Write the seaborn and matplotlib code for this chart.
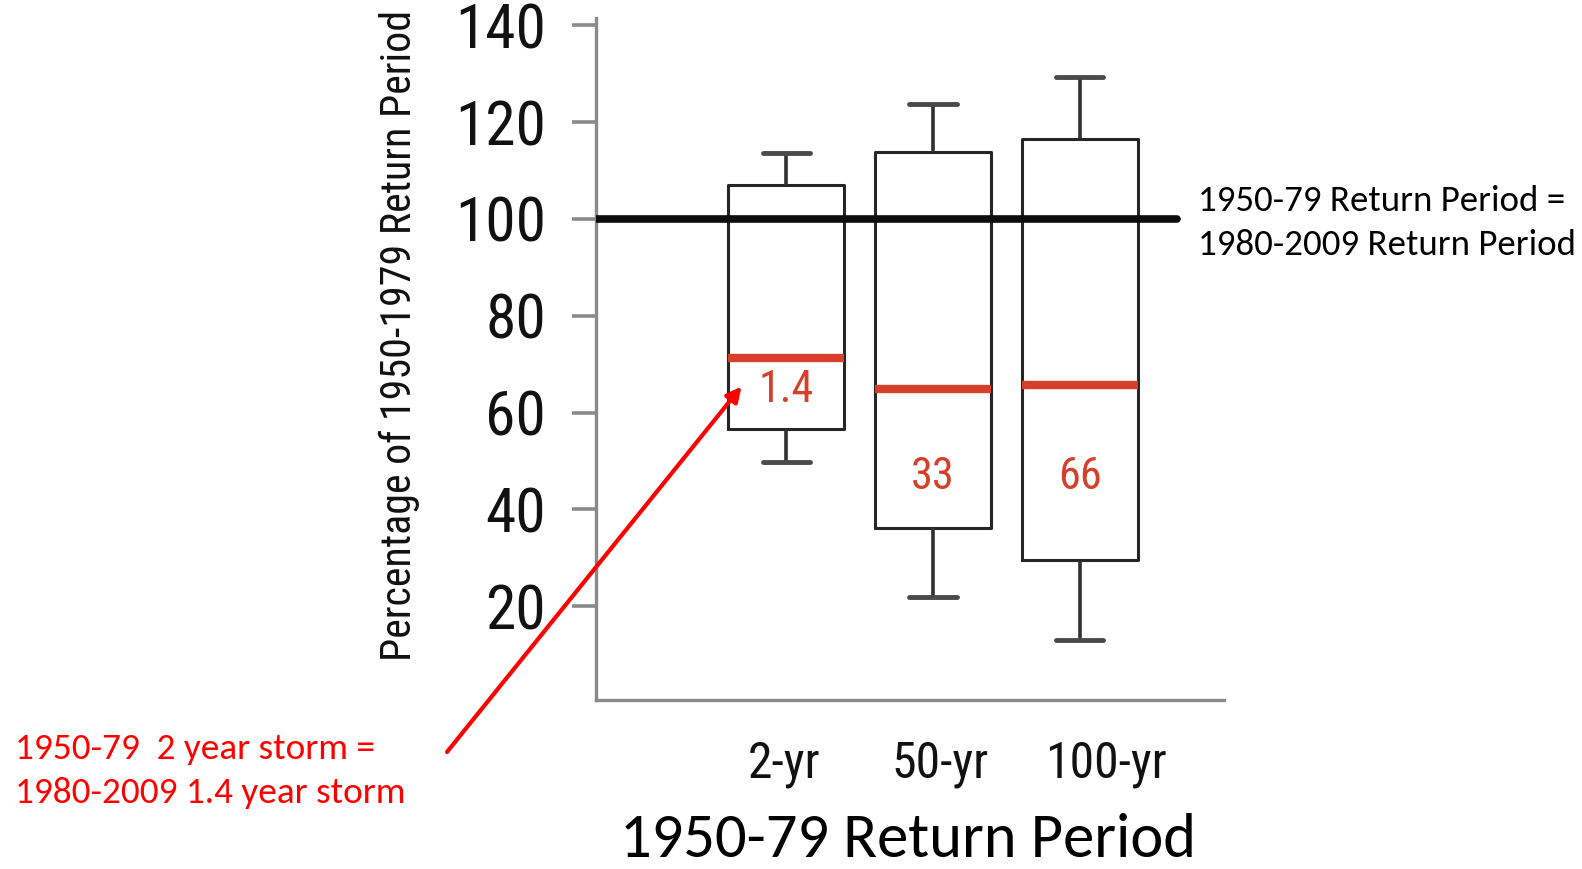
import numpy as np
import pandas as pd
import matplotlib
matplotlib.use("Agg")
import matplotlib.pyplot as plt
import matplotlib.transforms as mtransforms
from matplotlib import font_manager as fm
import seaborn as sns

# ---------------- data ----------------
periods = ["2-yr", "50-yr", "100-yr"]
# lower whisker, Q1, median, Q3, upper whisker (percent of 1950-1979 return period)
pct_2yr = [49.8, 56.5, 71.3, 107.0, 113.7]
pct_50yr = [21.8, 36.2, 64.8, 113.8, 123.8]
pct_100yr = [13.1, 29.5, 65.6, 116.5, 129.4]
new_periods = ["1.4", "33", "66"]
yticks = [20, 40, 60, 80, 100, 120, 140]
reference_level = 100

df = pd.DataFrame({
    "period": np.repeat(periods, 5),
    "pct": pct_2yr + pct_50yr + pct_100yr,
})

# ---------------- fonts ----------------
sns.set_style("ticks")
avail = fm.fontManager.ttflist
names = {f.name for f in avail}
cond_prop = None
for cand in ["Liberation Sans Narrow", "Roboto Condensed", "Open Sans Condensed",
             "Noto Sans Condensed", "DejaVu Sans Condensed"]:
    if cand in names:
        cond_prop = fm.FontProperties(family=cand)
        break
if cond_prop is None:
    for f in avail:
        if f.name in ("Roboto", "Open Sans", "Noto Sans", "DejaVu Sans", "Inter") and \
                str(f.stretch) in ("condensed", "semi-condensed", "extra-condensed", "75", "87.5", "62.5"):
            cond_prop = fm.FontProperties(fname=f.fname)
            break
if cond_prop is None:
    cond_prop = fm.FontProperties(family="DejaVu Sans")
calib = "Carlito" if "Carlito" in names else "Lato"
plt.rcParams["font.family"] = [calib, "DejaVu Sans"]

W, H = 1582, 869
fig = plt.figure(figsize=(W / 100, H / 100), dpi=100)
ax = fig.add_axes([596 / W, 1 - 700 / H, (1224 - 596) / W, (700 - 18) / H])

median_red = "#d6402a"
box_dark = "#262626"
sns.boxplot(data=df, x="period", y="pct", order=periods, ax=ax,
            whis=(0, 100), width=0.79, fill=False, color=box_dark, linecolor=box_dark,
            linewidth=2.2, capwidths=0.32,
            boxprops=dict(color=box_dark, linewidth=2.2),
            medianprops=dict(color=median_red, linewidth=6),
            capprops=dict(color="#4a4a4a", linewidth=3.5),
            whiskerprops=dict(color="#303030", linewidth=2.6))

ax.set_xlim(-1.293, 2.98)
ax.set_ylim(0.62, 141.5)
ax.axhline(reference_level, xmin=0, xmax=(2.66 + 1.293) / (2.98 + 1.293),
           color="#0d0d0d", linewidth=5.5, zorder=5)

for sp in ["top", "right"]:
    ax.spines[sp].set_visible(False)
for sp in ["left", "bottom"]:
    ax.spines[sp].set_color("#8a8a8a")
    ax.spines[sp].set_linewidth(2.4)

ax.set_yticks(yticks)
ax.set_yticklabels([str(v) for v in yticks], fontproperties=cond_prop)
ax.tick_params(axis="y", length=17, width=2.6, color="#8a8a8a", pad=19, labelcolor="#111111")
ax.tick_params(axis="x", length=0, pad=29, labelcolor="#111111")
ax.set_xticks(range(len(periods)))
ax.set_xticklabels(periods, fontproperties=cond_prop)
ax.set_xlabel("")
ax.set_ylabel("")

# numbers inside boxes
num_y = [64.6, 46.7, 46.7]
num_texts = []
for i, (lab, yy) in enumerate(zip(new_periods, num_y)):
    num_texts.append(ax.text(i, yy, lab, ha="center", va="center", color=median_red,
                             fontproperties=cond_prop, fontsize=30, zorder=6))

# y label (rotated, condensed)
ylab = fig.text(399 / W, 1 - 335 / H, "Percentage of 1950-1979 Return Period",
                rotation=90, ha="center", va="center", fontproperties=cond_prop,
                fontsize=30, color="#111111")

# x label
xlab = fig.text(908 / W, 1 - 840 / H, "1950-79 Return Period", ha="center", va="center",
                fontsize=31, color="black")

# right annotation
r1 = fig.text(1198 / W, 1 - 201 / H, "1950-79 Return Period =", ha="left", va="center",
              fontsize=21, color="black")
r2 = fig.text(1198 / W, 1 - 245 / H, "1980-2009 Return Period", ha="left", va="center",
              fontsize=21, color="black")

# red annotation
l1 = fig.text(15 / W, 1 - 749 / H, "1950-79  2 year storm =", ha="left", va="center",
              fontsize=21, color="#ff0000")
l2 = fig.text(15 / W, 1 - 793 / H, "1980-2009 1.4 year storm", ha="left", va="center",
              fontsize=21, color="#ff0000")

ax.annotate("", xy=(741.6, H - 386.5), xycoords="figure pixels",
            xytext=(447, H - 752), textcoords="figure pixels",
            arrowprops=dict(arrowstyle="-|>", color="#ff0000", lw=3,
                            mutation_scale=22, shrinkA=0, shrinkB=0), zorder=7)

# ---- fit text sizes to measured widths ----
fig.canvas.draw()
r = fig.canvas.get_renderer()

def scale_for(t, target, use_height=False):
    bb = t.get_window_extent(r)
    cur = bb.height if use_height else bb.width
    return target / cur

s = scale_for(ylab, 651, use_height=True)
ylab.set_fontsize(ylab.get_fontsize() * s)

yl = ax.get_yticklabels()
s = scale_for(yl[-1], 90)
for t in yl:
    t.set_fontsize(t.get_fontsize() * s)

xl = ax.get_xticklabels()
s = scale_for(xl[-1], 121)
for t in xl:
    t.set_fontsize(t.get_fontsize() * s)

s = scale_for(num_texts[0], 55)
for t in num_texts:
    t.set_fontsize(t.get_fontsize() * s)

s = scale_for(xlab, 576)
xlab.set_fontsize(xlab.get_fontsize() * s)
s = scale_for(r2, 378)
r1.set_fontsize(r1.get_fontsize() * s)
r2.set_fontsize(r2.get_fontsize() * s)
s = scale_for(l2, 390)
l1.set_fontsize(l1.get_fontsize() * s)
l2.set_fontsize(l2.get_fontsize() * s)

# shift x tick labels to match reference placement
offs = [-2, 7, 26]
for t, o in zip(ax.get_xticklabels(), offs):
    t.set_transform(t.get_transform() + mtransforms.ScaledTranslation(o / 100, 0, fig.dpi_scale_trans))

fig.savefig("out.png", dpi=100)
